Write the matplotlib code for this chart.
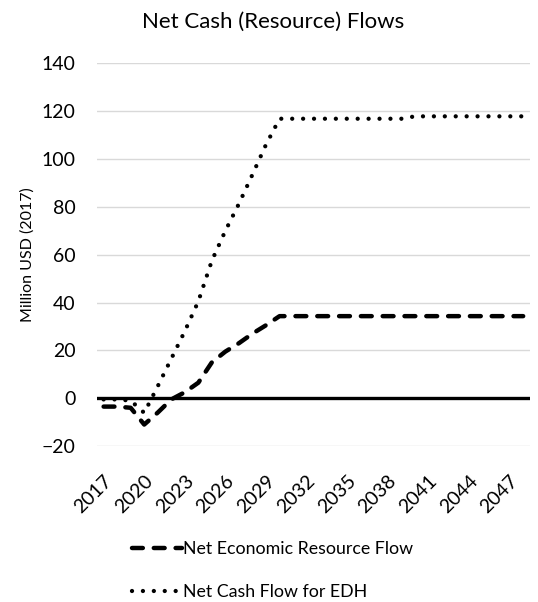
import matplotlib
matplotlib.use('Agg')
import matplotlib.pyplot as plt
import numpy as np

plt.rcParams['font.family'] = ['Lato', 'DejaVu Sans']
plt.rcParams['lines.scale_dashes'] = False

# data
years = list(range(2017, 2049))
net_economic = [-3.5, -3.5, -4.0, -11.0, -6.0, -0.5, 2.5, 6.5, 15.0, 19.5,
                23.0, 27.0, 30.5, 34.3] + [34.3] * 18
net_cash_edh = [-0.5, -0.5, -1.0, -6.1, 5.0, 16.5, 28.0, 40.5, 57.5, 70.0,
                81.3, 93.5, 106.0, 116.8] + [116.8] * 9 + [117.8] * 9
tick_years = years[::3]

fig = plt.figure(figsize=(5.38, 6.02), dpi=100)
ax = fig.add_axes([0.180, 0.259, 0.805, 0.636])

x = np.arange(len(years))

ax.axhline(0, color='black', lw=2.4, zorder=2)
ax.plot(x, net_economic, color='black', lw=3.2, dashes=(7.8, 7.9),
        dash_capstyle='round', label='Net Economic Resource Flow', zorder=3)
ax.plot(x, net_cash_edh, color='black', lw=3.1, dashes=(0.01, 7.85),
        dash_capstyle='round', label='Net Cash Flow for EDH', zorder=3)

ax.set_xlim(-0.5, len(years) - 0.5)
ax.set_ylim(-20, 140)
ax.set_yticks(range(-20, 141, 20))
ax.grid(axis='y', color='#d9d9d9', lw=1)
ax.set_axisbelow(True)
for s in ax.spines.values():
    s.set_visible(False)

ax.set_xticks([years.index(y) for y in tick_years])
ax.set_xticklabels([str(y) for y in tick_years], rotation=45, ha='right',
                   rotation_mode='anchor', fontsize=14)
ax.tick_params(axis='x', length=0, pad=19)
ax.tick_params(axis='y', length=0, pad=15.5, labelsize=14)

ax.set_ylabel('Million USD (2017)', fontsize=11.5, labelpad=5)
fig.suptitle('Net Cash (Resource) Flows', x=0.508, y=0.963, va='center',
             fontsize=16)

fig.legend(loc='upper left', bbox_to_anchor=(0.232, 0.113), frameon=False,
           fontsize=12.8, handlelength=2.8, handletextpad=0.1,
           labelspacing=1.5, borderaxespad=0)

fig.savefig('out.png', dpi=100)
